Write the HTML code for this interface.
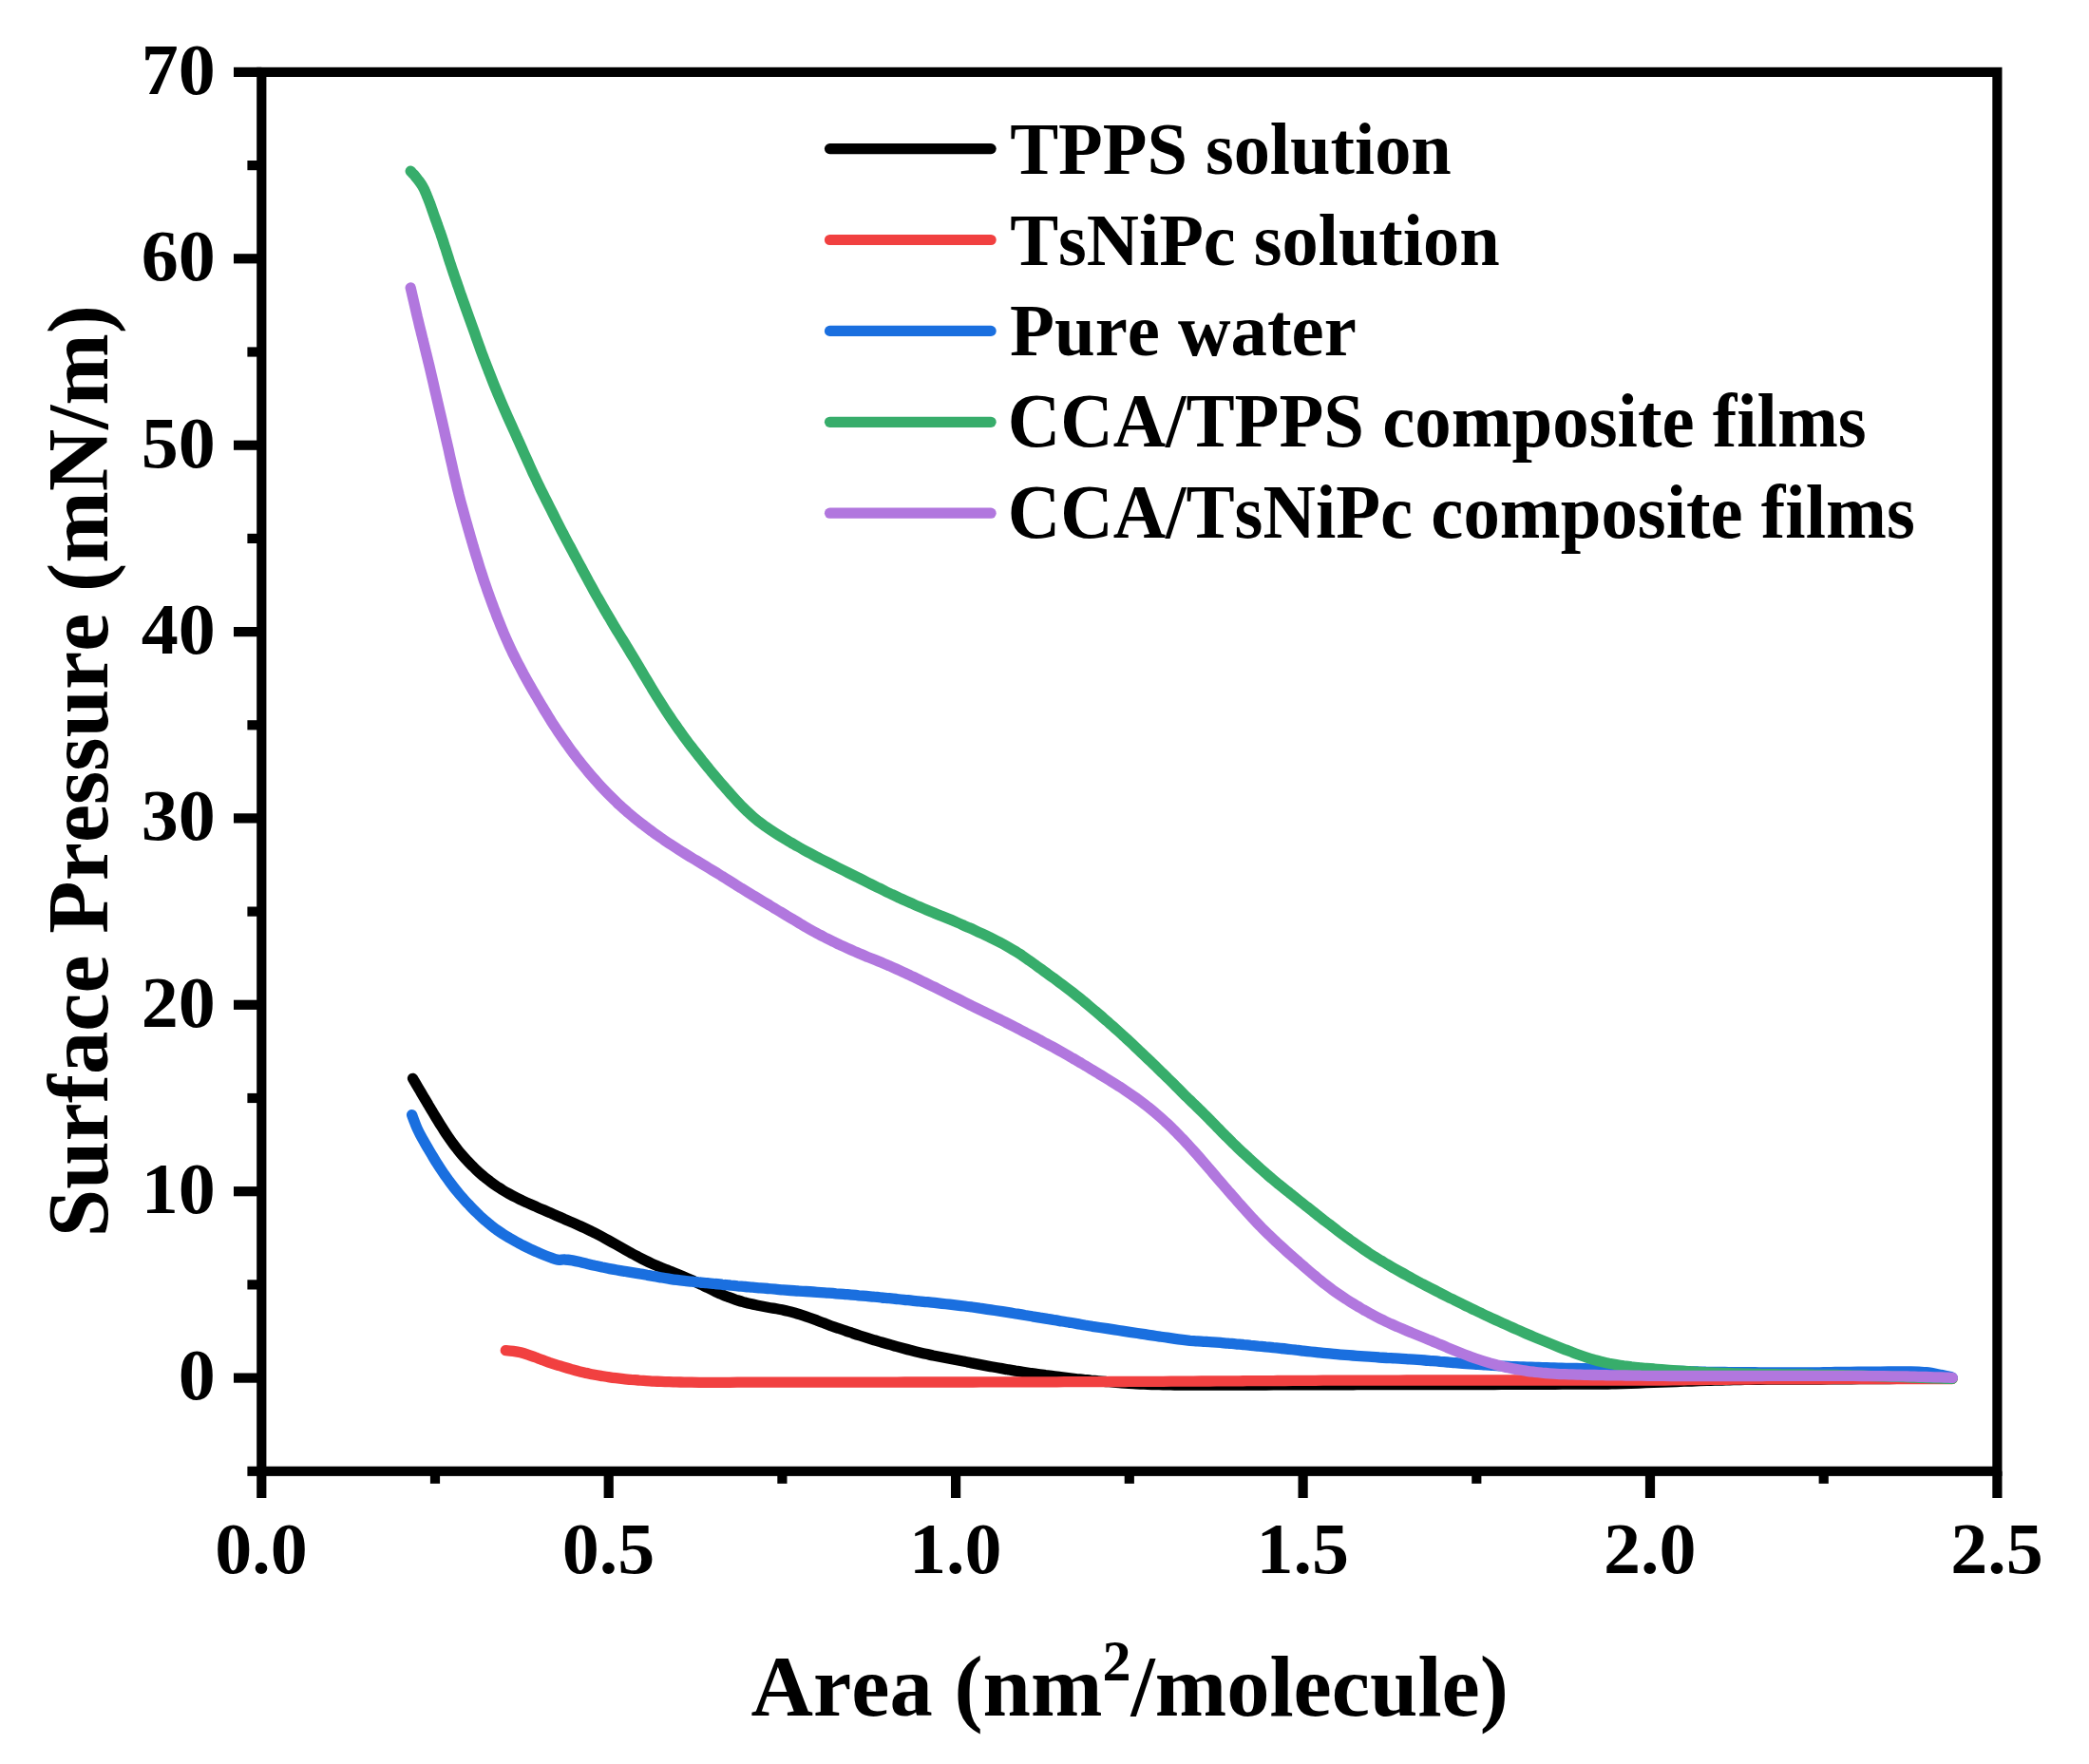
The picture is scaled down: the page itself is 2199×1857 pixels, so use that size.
<!DOCTYPE html>
<html lang="en"><head><meta charset="utf-8"><title>Surface Pressure vs Area isotherms</title>
<style>html,body{margin:0;padding:0;background:#fff}body{width:2199px;height:1857px;overflow:hidden}svg{display:block}text{font-family:"Liberation Serif","Times New Roman",serif;font-weight:bold;fill:#000;font-kerning:none}</style></head><body>
<svg width="2199" height="1857" viewBox="0 0 2199 1857">
<rect width="2199" height="1857" fill="#fff"/>
<g fill="none" stroke-width="11.3" stroke-linecap="round" stroke-linejoin="round">
<path stroke="#000000" d="M434.5 1135.3C435.2 1136.4 437.2 1139.9 438.6 1142.2C439.9 1144.5 441.3 1146.8 442.7 1149.1C444.0 1151.4 445.4 1153.7 446.7 1156.0C448.1 1158.3 449.5 1160.6 450.8 1162.9C452.2 1165.2 453.5 1167.5 454.9 1169.8C456.2 1172.1 457.6 1174.4 459.0 1176.6C460.4 1178.9 461.8 1181.2 463.2 1183.5C464.6 1185.7 466.0 1188.0 467.5 1190.2C468.9 1192.5 470.4 1194.7 471.9 1196.9C473.4 1199.1 474.9 1201.3 476.5 1203.4C478.1 1205.6 479.7 1207.7 481.4 1209.8C483.0 1211.9 484.7 1213.9 486.5 1216.0C488.2 1218.0 490.0 1220.0 491.8 1221.9C493.6 1223.9 495.5 1225.8 497.4 1227.7C499.3 1229.5 501.2 1231.4 503.1 1233.2C505.1 1235.0 507.1 1236.8 509.2 1238.5C511.2 1240.2 513.3 1241.8 515.5 1243.4C517.6 1245.0 519.7 1246.6 521.9 1248.1C524.1 1249.6 526.4 1251.0 528.6 1252.5C530.9 1253.9 533.2 1255.2 535.5 1256.5C537.8 1257.8 540.2 1259.1 542.6 1260.3C545.0 1261.5 547.4 1262.6 549.8 1263.8C552.2 1264.9 554.6 1266.0 557.1 1267.1C559.5 1268.2 561.9 1269.3 564.4 1270.3C566.8 1271.4 569.3 1272.5 571.7 1273.5C574.2 1274.6 576.6 1275.7 579.1 1276.7C581.5 1277.8 584.0 1278.9 586.4 1280.0C588.8 1281.0 591.3 1282.1 593.7 1283.2C596.2 1284.2 598.6 1285.3 601.1 1286.4C603.5 1287.4 606.0 1288.5 608.4 1289.6C610.8 1290.7 613.3 1291.8 615.7 1292.9C618.1 1294.0 620.5 1295.2 622.9 1296.4C625.3 1297.5 627.7 1298.8 630.1 1300.0C632.4 1301.2 634.8 1302.5 637.1 1303.8C639.4 1305.1 641.8 1306.4 644.1 1307.7C646.4 1309.0 648.8 1310.3 651.1 1311.6C653.4 1312.9 655.7 1314.2 658.1 1315.6C660.4 1316.9 662.7 1318.2 665.0 1319.5C667.4 1320.7 669.7 1322.0 672.1 1323.3C674.5 1324.5 676.8 1325.7 679.2 1326.9C681.6 1328.1 684.0 1329.2 686.5 1330.3C688.9 1331.4 691.4 1332.4 693.8 1333.4C696.3 1334.5 698.8 1335.5 701.2 1336.5C703.7 1337.5 706.2 1338.4 708.7 1339.4C711.2 1340.4 713.6 1341.4 716.1 1342.4C718.6 1343.4 721.0 1344.5 723.5 1345.6C725.9 1346.6 728.3 1347.8 730.8 1348.9C733.2 1350.0 735.6 1351.2 738.0 1352.3C740.4 1353.5 742.8 1354.6 745.2 1355.8C747.6 1357.0 750.0 1358.2 752.4 1359.3C754.8 1360.4 757.2 1361.6 759.7 1362.6C762.1 1363.7 764.6 1364.7 767.1 1365.6C769.6 1366.6 772.1 1367.5 774.6 1368.3C777.2 1369.1 779.7 1369.9 782.3 1370.6C784.9 1371.3 787.4 1372.0 790.0 1372.6C792.6 1373.2 795.3 1373.7 797.9 1374.2C800.5 1374.7 803.1 1375.2 805.7 1375.7C808.4 1376.2 811.0 1376.7 813.6 1377.1C816.2 1377.6 818.9 1378.0 821.5 1378.5C824.1 1379.1 826.7 1379.6 829.3 1380.2C831.9 1380.8 834.5 1381.5 837.1 1382.2C839.6 1382.9 842.2 1383.8 844.7 1384.6C847.2 1385.4 849.8 1386.3 852.3 1387.2C854.8 1388.1 857.3 1389.0 859.8 1389.9C862.3 1390.9 864.8 1391.9 867.3 1392.8C869.7 1393.8 872.2 1394.7 874.7 1395.7C877.2 1396.6 879.8 1397.5 882.3 1398.3C884.8 1399.2 887.3 1400.1 889.9 1400.9C892.4 1401.8 894.9 1402.6 897.5 1403.5C900.0 1404.3 902.5 1405.1 905.1 1406.0C907.6 1406.8 910.1 1407.6 912.7 1408.4C915.2 1409.2 917.8 1410.0 920.3 1410.8C922.9 1411.5 925.5 1412.3 928.0 1413.0C930.6 1413.8 933.2 1414.5 935.7 1415.2C938.3 1416.0 940.9 1416.7 943.4 1417.4C946.0 1418.1 948.6 1418.8 951.2 1419.5C953.7 1420.2 956.3 1420.9 958.9 1421.5C961.5 1422.2 964.1 1422.9 966.7 1423.5C969.3 1424.1 971.9 1424.7 974.5 1425.3C977.1 1425.9 979.7 1426.4 982.3 1427.0C984.9 1427.5 987.5 1428.0 990.2 1428.5C992.8 1429.0 995.4 1429.5 998.0 1430.0C1000.6 1430.5 1003.3 1431.0 1005.9 1431.5C1008.5 1432.0 1011.1 1432.5 1013.8 1433.0C1016.4 1433.5 1019.0 1434.0 1021.6 1434.6C1024.2 1435.1 1026.8 1435.6 1029.5 1436.1C1032.1 1436.6 1034.7 1437.1 1037.3 1437.6C1040.0 1438.1 1042.6 1438.6 1045.2 1439.0C1047.8 1439.5 1050.5 1440.0 1053.1 1440.4C1055.7 1440.9 1058.4 1441.3 1061.0 1441.8C1063.6 1442.2 1066.3 1442.6 1068.9 1443.1C1071.5 1443.5 1074.2 1443.9 1076.8 1444.3C1079.5 1444.7 1082.1 1445.1 1084.7 1445.5C1087.4 1445.9 1090.0 1446.3 1092.7 1446.6C1095.3 1447.0 1097.9 1447.3 1100.6 1447.7C1103.2 1448.0 1105.9 1448.4 1108.5 1448.7C1111.2 1449.0 1113.8 1449.4 1116.5 1449.7C1119.1 1450.0 1121.8 1450.3 1124.4 1450.6C1127.1 1450.9 1129.7 1451.2 1132.4 1451.5C1135.1 1451.8 1137.7 1452.0 1140.4 1452.3C1143.0 1452.6 1145.7 1452.8 1148.3 1453.1C1151.0 1453.3 1153.6 1453.6 1156.3 1453.8C1159.0 1454.1 1161.6 1454.3 1164.3 1454.5C1166.9 1454.8 1169.6 1455.0 1172.3 1455.2C1174.9 1455.4 1177.6 1455.7 1180.2 1455.8C1182.9 1456.0 1185.6 1456.2 1188.2 1456.4C1190.9 1456.5 1193.6 1456.6 1196.2 1456.8C1198.9 1456.9 1201.6 1457.1 1204.2 1457.2C1206.9 1457.3 1209.6 1457.4 1212.2 1457.5C1214.9 1457.6 1217.6 1457.6 1220.2 1457.7C1222.9 1457.8 1225.6 1457.8 1228.2 1457.9C1230.9 1457.9 1233.6 1458.0 1236.2 1458.0C1238.9 1458.0 1241.6 1458.1 1244.3 1458.1C1246.9 1458.1 1249.6 1458.1 1252.3 1458.1C1254.9 1458.1 1257.6 1458.1 1260.3 1458.1C1262.9 1458.1 1265.6 1458.1 1268.3 1458.1C1271.0 1458.1 1273.6 1458.1 1276.3 1458.1C1279.0 1458.1 1281.6 1458.1 1284.3 1458.1C1287.0 1458.1 1289.6 1458.1 1292.3 1458.1C1295.0 1458.1 1297.6 1458.1 1300.3 1458.0C1303.0 1458.0 1305.7 1458.0 1308.3 1458.0C1311.0 1458.0 1313.7 1458.0 1316.3 1458.0C1319.0 1458.0 1321.7 1458.0 1324.3 1458.0C1327.0 1458.0 1329.7 1458.0 1332.3 1458.0C1335.0 1458.0 1337.7 1458.0 1340.4 1457.9C1343.0 1457.9 1345.7 1457.9 1348.4 1457.9C1351.0 1457.9 1353.7 1457.9 1356.4 1457.9C1359.0 1457.9 1361.7 1457.9 1364.4 1457.9C1367.0 1457.9 1369.7 1457.9 1372.4 1457.9C1375.1 1457.9 1377.7 1457.9 1380.4 1457.8C1383.1 1457.8 1385.7 1457.8 1388.4 1457.8C1391.1 1457.8 1393.7 1457.8 1396.4 1457.8C1399.1 1457.8 1401.8 1457.8 1404.4 1457.8C1407.1 1457.8 1409.8 1457.8 1412.4 1457.8C1415.1 1457.8 1417.8 1457.8 1420.4 1457.8C1423.1 1457.8 1425.8 1457.7 1428.4 1457.7C1431.1 1457.7 1433.8 1457.7 1436.5 1457.7C1439.1 1457.7 1441.8 1457.7 1444.5 1457.7C1447.1 1457.7 1449.8 1457.7 1452.5 1457.7C1455.1 1457.7 1457.8 1457.7 1460.5 1457.7C1463.1 1457.7 1465.8 1457.7 1468.5 1457.7C1471.2 1457.7 1473.8 1457.7 1476.5 1457.6C1479.2 1457.6 1481.8 1457.6 1484.5 1457.6C1487.2 1457.6 1489.8 1457.6 1492.5 1457.6C1495.2 1457.6 1497.8 1457.6 1500.5 1457.6C1503.2 1457.6 1505.9 1457.6 1508.5 1457.6C1511.2 1457.6 1513.9 1457.6 1516.5 1457.6C1519.2 1457.6 1521.9 1457.6 1524.5 1457.6C1527.2 1457.5 1529.9 1457.5 1532.6 1457.5C1535.2 1457.5 1537.9 1457.5 1540.6 1457.5C1543.2 1457.5 1545.9 1457.5 1548.6 1457.5C1551.2 1457.5 1553.9 1457.5 1556.6 1457.5C1559.2 1457.5 1561.9 1457.5 1564.6 1457.5C1567.3 1457.5 1569.9 1457.5 1572.6 1457.5C1575.3 1457.4 1577.9 1457.4 1580.6 1457.4C1583.3 1457.4 1585.9 1457.4 1588.6 1457.4C1591.3 1457.4 1593.9 1457.4 1596.6 1457.4C1599.3 1457.4 1602.0 1457.4 1604.6 1457.4C1607.3 1457.4 1610.0 1457.4 1612.6 1457.3C1615.3 1457.3 1618.0 1457.3 1620.6 1457.3C1623.3 1457.3 1626.0 1457.3 1628.6 1457.3C1631.3 1457.3 1634.0 1457.3 1636.7 1457.3C1639.3 1457.2 1642.0 1457.2 1644.7 1457.2C1647.3 1457.2 1650.0 1457.2 1652.7 1457.2C1655.3 1457.2 1658.0 1457.2 1660.7 1457.2C1663.4 1457.1 1666.0 1457.1 1668.7 1457.1C1671.4 1457.1 1674.0 1457.1 1676.7 1457.1C1679.4 1457.1 1682.0 1457.1 1684.7 1457.1C1687.4 1457.0 1690.0 1457.0 1692.7 1457.0C1695.4 1457.0 1698.1 1456.9 1700.7 1456.9C1703.4 1456.8 1706.1 1456.7 1708.7 1456.6C1711.4 1456.5 1714.1 1456.4 1716.7 1456.3C1719.4 1456.2 1722.1 1456.1 1724.7 1456.0C1727.4 1455.9 1730.1 1455.8 1732.7 1455.7C1735.4 1455.6 1738.1 1455.5 1740.7 1455.4C1743.4 1455.3 1746.1 1455.2 1748.7 1455.1C1751.4 1455.0 1754.1 1454.9 1756.7 1454.8C1759.4 1454.7 1762.1 1454.6 1764.7 1454.5C1767.4 1454.4 1770.1 1454.3 1772.7 1454.2C1775.4 1454.1 1778.1 1454.0 1780.7 1454.0C1783.4 1453.9 1786.1 1453.8 1788.8 1453.7C1791.4 1453.6 1794.1 1453.5 1796.8 1453.4C1799.4 1453.3 1802.1 1453.3 1804.8 1453.2C1807.4 1453.1 1810.1 1453.1 1812.8 1453.0C1815.4 1452.9 1818.1 1452.9 1820.8 1452.8C1823.4 1452.7 1826.1 1452.7 1828.8 1452.6C1831.4 1452.6 1834.1 1452.5 1836.8 1452.4C1839.5 1452.4 1842.1 1452.3 1844.8 1452.3C1847.5 1452.3 1850.1 1452.3 1852.8 1452.3C1855.5 1452.2 1858.1 1452.2 1860.8 1452.2C1863.5 1452.2 1866.1 1452.2 1868.8 1452.2C1871.5 1452.2 1874.2 1452.2 1876.8 1452.1C1879.5 1452.1 1882.2 1452.1 1884.8 1452.1C1887.5 1452.1 1890.2 1452.1 1892.8 1452.1C1895.5 1452.1 1898.2 1452.0 1900.8 1452.0C1903.5 1452.0 1906.2 1452.0 1908.9 1452.0C1911.5 1452.0 1914.2 1452.0 1916.9 1452.0C1919.5 1451.9 1922.2 1451.9 1924.9 1451.9C1927.5 1451.9 1930.2 1451.9 1932.9 1451.9C1935.5 1451.9 1938.2 1451.9 1940.9 1451.8C1943.6 1451.8 1946.2 1451.8 1948.9 1451.8C1951.6 1451.8 1954.2 1451.8 1956.9 1451.7C1959.6 1451.7 1962.2 1451.7 1964.9 1451.7C1967.6 1451.7 1970.2 1451.6 1972.9 1451.6C1975.6 1451.6 1978.3 1451.6 1980.9 1451.6C1983.6 1451.5 1986.3 1451.5 1988.9 1451.5C1991.6 1451.5 1994.3 1451.5 1996.9 1451.4C1999.6 1451.4 2002.3 1451.4 2005.0 1451.4C2007.6 1451.4 2010.3 1451.3 2013.0 1451.3C2015.6 1451.3 2018.3 1451.3 2021.0 1451.3C2023.6 1451.2 2026.3 1451.2 2029.0 1451.2C2031.6 1451.2 2034.3 1451.2 2037.0 1451.1C2039.7 1451.1 2042.3 1451.1 2045.0 1451.1C2047.7 1451.1 2051.3 1451.0 2053.0 1451.0C2054.7 1451.0 2054.7 1451.0 2055.0 1451.0"/>
<path stroke="#F14040" d="M532.3 1421.6C533.6 1421.7 537.6 1422.0 540.2 1422.4C542.9 1422.8 545.5 1423.2 548.1 1423.8C550.6 1424.5 553.2 1425.3 555.7 1426.1C558.2 1426.9 560.7 1427.9 563.2 1428.8C565.7 1429.7 568.2 1430.7 570.7 1431.6C573.2 1432.6 575.7 1433.5 578.2 1434.4C580.8 1435.2 583.3 1436.0 585.9 1436.8C588.4 1437.6 591.0 1438.3 593.5 1439.1C596.1 1439.9 598.6 1440.6 601.2 1441.4C603.8 1442.1 606.3 1442.8 608.9 1443.5C611.5 1444.1 614.1 1444.8 616.7 1445.4C619.3 1445.9 621.9 1446.5 624.5 1447.0C627.1 1447.5 629.8 1448.0 632.4 1448.4C635.0 1448.8 637.7 1449.3 640.3 1449.6C642.9 1450.0 645.6 1450.4 648.2 1450.7C650.9 1451.0 653.5 1451.3 656.2 1451.6C658.8 1451.9 661.5 1452.1 664.2 1452.4C666.8 1452.6 669.5 1452.8 672.1 1453.0C674.8 1453.3 677.5 1453.4 680.1 1453.6C682.8 1453.8 685.4 1453.9 688.1 1454.1C690.8 1454.2 693.4 1454.3 696.1 1454.4C698.8 1454.5 701.4 1454.6 704.1 1454.7C706.8 1454.8 709.4 1454.9 712.1 1454.9C714.8 1455.0 717.4 1455.0 720.1 1455.1C722.8 1455.1 725.4 1455.2 728.1 1455.2C730.8 1455.3 733.5 1455.3 736.1 1455.3C738.8 1455.3 741.5 1455.3 744.1 1455.3C746.8 1455.3 749.5 1455.3 752.1 1455.3C754.8 1455.3 757.5 1455.3 760.1 1455.3C762.8 1455.3 765.5 1455.3 768.1 1455.3C770.8 1455.2 773.5 1455.2 776.1 1455.2C778.8 1455.2 781.5 1455.2 784.2 1455.2C786.8 1455.2 789.5 1455.2 792.2 1455.1C794.8 1455.1 797.5 1455.1 800.2 1455.1C802.8 1455.1 805.5 1455.1 808.2 1455.1C810.8 1455.1 813.5 1455.1 816.2 1455.1C818.8 1455.1 821.5 1455.1 824.2 1455.1C826.8 1455.1 829.5 1455.1 832.2 1455.1C834.9 1455.1 837.5 1455.1 840.2 1455.1C842.9 1455.1 845.5 1455.1 848.2 1455.1C850.9 1455.1 853.5 1455.1 856.2 1455.1C858.9 1455.1 861.5 1455.1 864.2 1455.1C866.9 1455.1 869.5 1455.1 872.2 1455.1C874.9 1455.1 877.5 1455.1 880.2 1455.1C882.9 1455.1 885.6 1455.1 888.2 1455.1C890.9 1455.1 893.6 1455.1 896.2 1455.1C898.9 1455.1 901.6 1455.1 904.2 1455.1C906.9 1455.1 909.6 1455.1 912.2 1455.1C914.9 1455.1 917.6 1455.1 920.2 1455.1C922.9 1455.1 925.6 1455.1 928.3 1455.1C930.9 1455.1 933.6 1455.1 936.3 1455.1C938.9 1455.1 941.6 1455.1 944.3 1455.1C946.9 1455.1 949.6 1455.1 952.3 1455.0C954.9 1455.0 957.6 1455.0 960.3 1455.0C962.9 1455.0 965.6 1455.0 968.3 1455.0C970.9 1455.0 973.6 1455.0 976.3 1455.0C979.0 1455.0 981.6 1455.0 984.3 1455.0C987.0 1455.0 989.6 1455.0 992.3 1455.0C995.0 1455.0 997.6 1455.0 1000.3 1455.0C1003.0 1455.0 1005.6 1455.0 1008.3 1455.0C1011.0 1455.0 1013.6 1455.0 1016.3 1455.0C1019.0 1455.0 1021.6 1455.0 1024.3 1455.0C1027.0 1454.9 1029.7 1454.9 1032.3 1454.9C1035.0 1454.9 1037.7 1454.9 1040.3 1454.9C1043.0 1454.9 1045.7 1454.9 1048.3 1454.9C1051.0 1454.9 1053.7 1454.9 1056.3 1454.9C1059.0 1454.9 1061.7 1454.9 1064.3 1454.9C1067.0 1454.9 1069.7 1454.9 1072.3 1454.9C1075.0 1454.8 1077.7 1454.8 1080.4 1454.8C1083.0 1454.8 1085.7 1454.8 1088.4 1454.8C1091.0 1454.8 1093.7 1454.8 1096.4 1454.8C1099.0 1454.8 1101.7 1454.8 1104.4 1454.8C1107.0 1454.8 1109.7 1454.8 1112.4 1454.8C1115.0 1454.7 1117.7 1454.7 1120.4 1454.7C1123.0 1454.7 1125.7 1454.7 1128.4 1454.7C1131.1 1454.7 1133.7 1454.7 1136.4 1454.7C1139.1 1454.6 1141.7 1454.6 1144.4 1454.6C1147.1 1454.6 1149.7 1454.6 1152.4 1454.6C1155.1 1454.6 1157.7 1454.6 1160.4 1454.6C1163.1 1454.5 1165.7 1454.5 1168.4 1454.5C1171.1 1454.5 1173.7 1454.5 1176.4 1454.5C1179.1 1454.5 1181.8 1454.5 1184.4 1454.5C1187.1 1454.5 1189.8 1454.4 1192.4 1454.4C1195.1 1454.4 1197.8 1454.4 1200.4 1454.4C1203.1 1454.4 1205.8 1454.4 1208.4 1454.3C1211.1 1454.3 1213.8 1454.3 1216.4 1454.3C1219.1 1454.3 1221.8 1454.3 1224.4 1454.3C1227.1 1454.2 1229.8 1454.2 1232.5 1454.2C1235.1 1454.2 1237.8 1454.2 1240.5 1454.2C1243.1 1454.1 1245.8 1454.1 1248.5 1454.1C1251.1 1454.1 1253.8 1454.1 1256.5 1454.1C1259.1 1454.0 1261.8 1454.0 1264.5 1454.0C1267.1 1454.0 1269.8 1454.0 1272.5 1454.0C1275.1 1453.9 1277.8 1453.9 1280.5 1453.9C1283.2 1453.9 1285.8 1453.9 1288.5 1453.9C1291.2 1453.9 1293.8 1453.8 1296.5 1453.8C1299.2 1453.8 1301.8 1453.8 1304.5 1453.8C1307.2 1453.8 1309.8 1453.7 1312.5 1453.7C1315.2 1453.7 1317.8 1453.7 1320.5 1453.7C1323.2 1453.7 1325.8 1453.6 1328.5 1453.6C1331.2 1453.6 1333.9 1453.6 1336.5 1453.6C1339.2 1453.6 1341.9 1453.5 1344.5 1453.5C1347.2 1453.5 1349.9 1453.5 1352.5 1453.5C1355.2 1453.5 1357.9 1453.5 1360.5 1453.4C1363.2 1453.4 1365.9 1453.4 1368.5 1453.4C1371.2 1453.4 1373.9 1453.4 1376.5 1453.3C1379.2 1453.3 1381.9 1453.3 1384.6 1453.3C1387.2 1453.3 1389.9 1453.3 1392.6 1453.2C1395.2 1453.2 1397.9 1453.2 1400.6 1453.2C1403.2 1453.2 1405.9 1453.2 1408.6 1453.2C1411.2 1453.2 1413.9 1453.2 1416.6 1453.2C1419.2 1453.2 1421.9 1453.2 1424.6 1453.2C1427.2 1453.1 1429.9 1453.1 1432.6 1453.1C1435.3 1453.1 1437.9 1453.1 1440.6 1453.1C1443.3 1453.1 1445.9 1453.1 1448.6 1453.1C1451.3 1453.1 1453.9 1453.1 1456.6 1453.1C1459.3 1453.1 1461.9 1453.1 1464.6 1453.1C1467.3 1453.1 1469.9 1453.1 1472.6 1453.1C1475.3 1453.0 1478.0 1453.0 1480.6 1453.0C1483.3 1453.0 1486.0 1453.0 1488.6 1453.0C1491.3 1453.0 1494.0 1453.0 1496.6 1453.0C1499.3 1453.0 1502.0 1453.0 1504.6 1453.0C1507.3 1453.0 1510.0 1453.0 1512.6 1453.0C1515.3 1453.0 1518.0 1453.0 1520.6 1453.0C1523.3 1453.0 1526.0 1453.0 1528.7 1453.0C1531.3 1453.0 1534.0 1453.0 1536.7 1453.0C1539.3 1453.0 1542.0 1453.0 1544.7 1453.0C1547.3 1453.0 1550.0 1453.0 1552.7 1453.0C1555.3 1453.0 1558.0 1453.0 1560.7 1453.0C1563.3 1453.0 1566.0 1453.0 1568.7 1453.0C1571.3 1453.0 1574.0 1453.0 1576.7 1453.0C1579.4 1453.0 1582.0 1453.0 1584.7 1453.0C1587.4 1453.0 1590.0 1453.0 1592.7 1453.0C1595.4 1453.0 1598.0 1453.0 1600.7 1453.0C1603.4 1453.0 1606.0 1453.0 1608.7 1453.0C1611.4 1453.0 1614.0 1453.0 1616.7 1453.0C1619.4 1453.0 1622.0 1453.0 1624.7 1453.0C1627.4 1453.0 1630.1 1453.0 1632.7 1453.0C1635.4 1453.0 1638.1 1453.0 1640.7 1453.0C1643.4 1453.0 1646.1 1453.0 1648.7 1453.0C1651.4 1453.0 1654.1 1453.0 1656.7 1453.0C1659.4 1453.0 1662.1 1453.0 1664.7 1453.0C1667.4 1453.0 1670.1 1453.0 1672.7 1453.0C1675.4 1453.0 1678.1 1453.0 1680.8 1453.0C1683.4 1453.0 1686.1 1453.0 1688.8 1453.0C1691.4 1453.0 1694.1 1453.0 1696.8 1453.0C1699.4 1453.0 1702.1 1453.0 1704.8 1453.0C1707.4 1453.0 1710.1 1453.0 1712.8 1453.0C1715.4 1453.0 1718.1 1453.0 1720.8 1453.0C1723.4 1453.0 1726.1 1453.0 1728.8 1453.0C1731.5 1453.0 1734.1 1453.0 1736.8 1453.0C1739.5 1453.0 1742.1 1453.0 1744.8 1453.0C1747.5 1453.0 1750.1 1453.0 1752.8 1453.0C1755.5 1452.9 1758.1 1452.9 1760.8 1452.9C1763.5 1452.9 1766.1 1452.8 1768.8 1452.8C1771.5 1452.8 1774.1 1452.7 1776.8 1452.7C1779.5 1452.7 1782.2 1452.6 1784.8 1452.6C1787.5 1452.6 1790.2 1452.6 1792.8 1452.5C1795.5 1452.5 1798.2 1452.5 1800.8 1452.4C1803.5 1452.4 1806.2 1452.4 1808.8 1452.4C1811.5 1452.3 1814.2 1452.3 1816.8 1452.3C1819.5 1452.2 1822.2 1452.2 1824.8 1452.2C1827.5 1452.1 1830.2 1452.1 1832.9 1452.1C1835.5 1452.1 1838.2 1452.0 1840.9 1452.0C1843.5 1452.0 1846.2 1452.0 1848.9 1451.9C1851.5 1451.9 1854.2 1451.9 1856.9 1451.9C1859.5 1451.9 1862.2 1451.9 1864.9 1451.9C1867.5 1451.9 1870.2 1451.9 1872.9 1451.9C1875.5 1451.8 1878.2 1451.8 1880.9 1451.8C1883.6 1451.8 1886.2 1451.8 1888.9 1451.8C1891.6 1451.8 1894.2 1451.8 1896.9 1451.8C1899.6 1451.8 1902.2 1451.8 1904.9 1451.8C1907.6 1451.8 1910.2 1451.8 1912.9 1451.8C1915.6 1451.8 1918.2 1451.8 1920.9 1451.8C1923.6 1451.8 1926.2 1451.7 1928.9 1451.7C1931.6 1451.7 1934.3 1451.7 1936.9 1451.7C1939.6 1451.7 1942.3 1451.7 1944.9 1451.7C1947.6 1451.7 1950.3 1451.7 1952.9 1451.7C1955.6 1451.7 1958.3 1451.7 1960.9 1451.7C1963.6 1451.7 1966.3 1451.7 1968.9 1451.7C1971.6 1451.7 1974.3 1451.7 1976.9 1451.6C1979.6 1451.6 1982.3 1451.6 1985.0 1451.6C1987.6 1451.6 1990.3 1451.6 1993.0 1451.6C1995.6 1451.6 1998.3 1451.6 2001.0 1451.6C2003.6 1451.6 2006.3 1451.6 2009.0 1451.6C2011.6 1451.6 2014.3 1451.6 2017.0 1451.6C2019.6 1451.6 2022.3 1451.6 2025.0 1451.6C2027.6 1451.6 2030.3 1451.5 2033.0 1451.5C2035.7 1451.5 2038.3 1451.5 2041.0 1451.5C2043.7 1451.5 2046.7 1451.5 2049.0 1451.5C2051.3 1451.5 2054.0 1451.5 2055.0 1451.5"/>
<path stroke="#1A6FDF" d="M433.6 1173.6C434.1 1174.9 435.4 1178.6 436.4 1181.1C437.3 1183.6 438.3 1186.1 439.4 1188.5C440.5 1190.9 441.8 1193.3 443.0 1195.6C444.2 1198.0 445.6 1200.3 446.9 1202.6C448.2 1204.9 449.5 1207.2 450.9 1209.5C452.2 1211.8 453.6 1214.1 455.0 1216.4C456.3 1218.7 457.7 1221.0 459.1 1223.3C460.6 1225.5 462.0 1227.8 463.5 1230.0C464.9 1232.2 466.4 1234.4 467.9 1236.6C469.5 1238.8 471.0 1241.0 472.6 1243.1C474.2 1245.3 475.8 1247.4 477.4 1249.5C479.0 1251.6 480.7 1253.7 482.4 1255.7C484.1 1257.8 485.9 1259.8 487.7 1261.8C489.4 1263.8 491.2 1265.8 493.1 1267.7C494.9 1269.6 496.7 1271.6 498.6 1273.5C500.5 1275.4 502.4 1277.2 504.3 1279.1C506.3 1280.9 508.2 1282.7 510.2 1284.5C512.2 1286.2 514.2 1288.0 516.3 1289.6C518.4 1291.3 520.5 1292.9 522.7 1294.5C524.9 1296.0 527.1 1297.5 529.3 1299.0C531.5 1300.4 533.8 1301.8 536.1 1303.2C538.4 1304.5 540.7 1305.8 543.1 1307.1C545.4 1308.4 547.8 1309.6 550.1 1310.9C552.5 1312.1 554.9 1313.3 557.3 1314.4C559.7 1315.5 562.1 1316.7 564.6 1317.7C567.0 1318.8 569.5 1319.9 571.9 1320.9C574.4 1321.9 576.9 1322.8 579.4 1323.7C581.9 1324.6 584.4 1325.8 587.0 1326.2C589.6 1326.6 592.2 1325.8 594.8 1326.0C597.5 1326.1 600.1 1326.5 602.7 1326.9C605.3 1327.4 607.9 1328.0 610.5 1328.6C613.1 1329.2 615.6 1329.9 618.2 1330.5C620.8 1331.1 623.4 1331.7 626.0 1332.3C628.6 1332.8 631.3 1333.4 633.9 1334.0C636.5 1334.5 639.1 1335.1 641.7 1335.6C644.3 1336.1 646.9 1336.6 649.6 1337.0C652.2 1337.5 654.8 1337.9 657.5 1338.3C660.1 1338.8 662.7 1339.2 665.4 1339.6C668.0 1340.0 670.6 1340.4 673.3 1340.9C675.9 1341.3 678.5 1341.8 681.1 1342.3C683.8 1342.7 686.4 1343.2 689.0 1343.7C691.6 1344.1 694.3 1344.6 696.9 1345.0C699.5 1345.5 702.2 1345.9 704.8 1346.3C707.4 1346.7 710.1 1347.1 712.7 1347.4C715.4 1347.8 718.0 1348.1 720.7 1348.4C723.3 1348.7 726.0 1348.9 728.6 1349.2C731.3 1349.5 733.9 1349.7 736.6 1350.0C739.2 1350.2 741.9 1350.5 744.5 1350.7C747.2 1351.0 749.9 1351.2 752.5 1351.5C755.2 1351.7 757.8 1352.0 760.5 1352.3C763.1 1352.5 765.8 1352.8 768.4 1353.0C771.1 1353.3 773.7 1353.5 776.4 1353.8C779.1 1354.0 781.7 1354.3 784.4 1354.5C787.0 1354.7 789.7 1355.0 792.3 1355.2C795.0 1355.4 797.7 1355.7 800.3 1355.9C803.0 1356.1 805.6 1356.3 808.3 1356.5C810.9 1356.8 813.6 1357.0 816.3 1357.2C818.9 1357.4 821.6 1357.7 824.2 1357.9C826.9 1358.1 829.6 1358.3 832.2 1358.5C834.9 1358.7 837.5 1358.8 840.2 1359.0C842.9 1359.2 845.5 1359.4 848.2 1359.5C850.8 1359.7 853.5 1359.9 856.2 1360.0C858.8 1360.2 861.5 1360.4 864.1 1360.6C866.8 1360.8 869.5 1360.9 872.1 1361.1C874.8 1361.3 877.4 1361.5 880.1 1361.8C882.8 1362.0 885.4 1362.2 888.1 1362.4C890.7 1362.6 893.4 1362.9 896.1 1363.1C898.7 1363.3 901.4 1363.5 904.0 1363.8C906.7 1364.0 909.3 1364.2 912.0 1364.4C914.7 1364.7 917.3 1364.9 920.0 1365.2C922.6 1365.4 925.3 1365.7 927.9 1366.0C930.6 1366.2 933.2 1366.5 935.9 1366.7C938.5 1367.0 941.2 1367.3 943.9 1367.5C946.5 1367.8 949.2 1368.1 951.8 1368.3C954.5 1368.6 957.1 1368.8 959.8 1369.1C962.4 1369.4 965.1 1369.6 967.7 1369.9C970.4 1370.1 973.1 1370.4 975.7 1370.6C978.4 1370.9 981.0 1371.2 983.7 1371.4C986.3 1371.7 989.0 1372.0 991.6 1372.3C994.3 1372.6 996.9 1372.9 999.6 1373.2C1002.2 1373.5 1004.9 1373.8 1007.5 1374.1C1010.2 1374.4 1012.8 1374.7 1015.5 1375.0C1018.1 1375.4 1020.8 1375.7 1023.4 1376.0C1026.1 1376.4 1028.7 1376.8 1031.3 1377.2C1034.0 1377.5 1036.6 1377.9 1039.2 1378.3C1041.9 1378.7 1044.5 1379.1 1047.2 1379.5C1049.8 1379.9 1052.4 1380.3 1055.1 1380.7C1057.7 1381.1 1060.3 1381.5 1063.0 1381.9C1065.6 1382.3 1068.2 1382.8 1070.9 1383.2C1073.5 1383.6 1076.1 1384.0 1078.8 1384.5C1081.4 1384.9 1084.0 1385.3 1086.7 1385.8C1089.3 1386.2 1091.9 1386.6 1094.6 1387.1C1097.2 1387.5 1099.8 1387.9 1102.5 1388.4C1105.1 1388.8 1107.7 1389.2 1110.4 1389.7C1113.0 1390.1 1115.6 1390.6 1118.2 1391.0C1120.9 1391.4 1123.5 1391.9 1126.1 1392.3C1128.8 1392.8 1131.4 1393.2 1134.0 1393.6C1136.7 1394.1 1139.3 1394.5 1141.9 1395.0C1144.6 1395.4 1147.2 1395.8 1149.8 1396.3C1152.5 1396.7 1155.1 1397.1 1157.7 1397.5C1160.4 1397.9 1163.0 1398.3 1165.6 1398.7C1168.3 1399.1 1170.9 1399.5 1173.5 1399.9C1176.2 1400.3 1178.8 1400.7 1181.5 1401.1C1184.1 1401.5 1186.7 1401.9 1189.4 1402.3C1192.0 1402.7 1194.6 1403.1 1197.3 1403.5C1199.9 1403.9 1202.6 1404.3 1205.2 1404.7C1207.8 1405.1 1210.5 1405.5 1213.1 1405.9C1215.7 1406.3 1218.4 1406.7 1221.0 1407.1C1223.7 1407.5 1226.3 1407.9 1228.9 1408.2C1231.6 1408.6 1234.2 1409.0 1236.8 1409.4C1239.5 1409.8 1242.1 1410.1 1244.8 1410.4C1247.4 1410.7 1250.1 1411.0 1252.7 1411.3C1255.4 1411.5 1258.0 1411.6 1260.7 1411.8C1263.4 1412.0 1266.0 1412.1 1268.7 1412.3C1271.4 1412.4 1274.0 1412.6 1276.7 1412.8C1279.3 1413.0 1282.0 1413.2 1284.7 1413.4C1287.3 1413.6 1290.0 1413.9 1292.6 1414.1C1295.3 1414.3 1297.9 1414.6 1300.6 1414.8C1303.3 1415.0 1305.9 1415.3 1308.6 1415.5C1311.2 1415.8 1313.9 1416.0 1316.5 1416.3C1319.2 1416.5 1321.8 1416.8 1324.5 1417.1C1327.1 1417.3 1329.8 1417.6 1332.5 1417.9C1335.1 1418.1 1337.8 1418.4 1340.4 1418.7C1343.1 1418.9 1345.7 1419.2 1348.4 1419.5C1351.0 1419.7 1353.7 1420.0 1356.3 1420.3C1359.0 1420.6 1361.6 1420.9 1364.3 1421.2C1366.9 1421.4 1369.6 1421.8 1372.2 1422.1C1374.9 1422.4 1377.5 1422.7 1380.2 1423.0C1382.8 1423.3 1385.5 1423.6 1388.1 1423.9C1390.8 1424.2 1393.4 1424.5 1396.1 1424.7C1398.7 1425.0 1401.4 1425.2 1404.1 1425.4C1406.7 1425.7 1409.4 1425.9 1412.0 1426.1C1414.7 1426.3 1417.4 1426.5 1420.0 1426.7C1422.7 1426.9 1425.3 1427.1 1428.0 1427.3C1430.7 1427.5 1433.3 1427.7 1436.0 1427.9C1438.6 1428.1 1441.3 1428.3 1444.0 1428.4C1446.6 1428.6 1449.3 1428.8 1451.9 1429.0C1454.6 1429.1 1457.3 1429.3 1459.9 1429.5C1462.6 1429.6 1465.2 1429.8 1467.9 1429.9C1470.6 1430.1 1473.2 1430.3 1475.9 1430.4C1478.6 1430.6 1481.2 1430.7 1483.9 1430.9C1486.5 1431.1 1489.2 1431.3 1491.9 1431.4C1494.5 1431.6 1497.2 1431.8 1499.8 1432.0C1502.5 1432.2 1505.2 1432.5 1507.8 1432.7C1510.5 1432.9 1513.1 1433.1 1515.8 1433.4C1518.5 1433.6 1521.1 1433.8 1523.8 1434.0C1526.4 1434.2 1529.1 1434.5 1531.7 1434.7C1534.4 1434.9 1537.1 1435.1 1539.7 1435.3C1542.4 1435.5 1545.0 1435.7 1547.7 1435.9C1550.4 1436.1 1553.0 1436.2 1555.7 1436.4C1558.3 1436.6 1561.0 1436.7 1563.7 1436.9C1566.3 1437.1 1569.0 1437.2 1571.7 1437.4C1574.3 1437.6 1577.0 1437.7 1579.6 1437.9C1582.3 1438.0 1585.0 1438.2 1587.6 1438.3C1590.3 1438.5 1593.0 1438.6 1595.6 1438.7C1598.3 1438.8 1601.0 1438.9 1603.6 1438.9C1606.3 1439.0 1608.9 1439.1 1611.6 1439.2C1614.3 1439.3 1616.9 1439.4 1619.6 1439.4C1622.3 1439.5 1624.9 1439.6 1627.6 1439.7C1630.3 1439.8 1632.9 1439.9 1635.6 1439.9C1638.3 1440.0 1640.9 1440.1 1643.6 1440.1C1646.3 1440.2 1648.9 1440.3 1651.6 1440.3C1654.3 1440.4 1656.9 1440.5 1659.6 1440.5C1662.3 1440.6 1664.9 1440.7 1667.6 1440.7C1670.3 1440.8 1672.9 1440.9 1675.6 1440.9C1678.3 1441.0 1680.9 1441.0 1683.6 1441.1C1686.3 1441.2 1688.9 1441.2 1691.6 1441.3C1694.3 1441.4 1696.9 1441.4 1699.6 1441.5C1702.3 1441.6 1704.9 1441.6 1707.6 1441.7C1710.3 1441.8 1712.9 1441.9 1715.6 1441.9C1718.3 1442.0 1720.9 1442.1 1723.6 1442.2C1726.3 1442.2 1728.9 1442.3 1731.6 1442.4C1734.3 1442.5 1736.9 1442.5 1739.6 1442.6C1742.3 1442.7 1744.9 1442.8 1747.6 1442.8C1750.3 1442.9 1752.9 1443.0 1755.6 1443.1C1758.3 1443.1 1760.9 1443.2 1763.6 1443.3C1766.3 1443.4 1768.9 1443.4 1771.6 1443.5C1774.3 1443.6 1776.9 1443.6 1779.6 1443.7C1782.2 1443.7 1784.9 1443.8 1787.6 1443.9C1790.2 1443.9 1792.9 1444.0 1795.6 1444.1C1798.2 1444.1 1800.9 1444.2 1803.6 1444.3C1806.2 1444.3 1808.9 1444.4 1811.6 1444.4C1814.2 1444.5 1816.9 1444.5 1819.6 1444.6C1822.2 1444.6 1824.9 1444.6 1827.6 1444.6C1830.2 1444.7 1832.9 1444.7 1835.6 1444.7C1838.2 1444.7 1840.9 1444.7 1843.6 1444.7C1846.2 1444.7 1848.9 1444.8 1851.6 1444.8C1854.3 1444.8 1856.9 1444.8 1859.6 1444.8C1862.3 1444.8 1864.9 1444.8 1867.6 1444.8C1870.3 1444.9 1872.9 1444.9 1875.6 1444.9C1878.3 1444.9 1880.9 1444.9 1883.6 1444.9C1886.3 1444.9 1888.9 1444.9 1891.6 1445.0C1894.3 1445.0 1896.9 1445.0 1899.6 1444.9C1902.3 1444.9 1904.9 1444.9 1907.6 1444.9C1910.3 1444.8 1912.9 1444.8 1915.6 1444.8C1918.3 1444.7 1920.9 1444.7 1923.6 1444.6C1926.3 1444.6 1928.9 1444.5 1931.6 1444.5C1934.3 1444.5 1936.9 1444.4 1939.6 1444.4C1942.3 1444.3 1944.9 1444.3 1947.6 1444.3C1950.3 1444.2 1952.9 1444.2 1955.6 1444.2C1958.3 1444.2 1960.9 1444.1 1963.6 1444.1C1966.3 1444.1 1968.9 1444.1 1971.6 1444.1C1974.3 1444.1 1976.9 1444.1 1979.6 1444.1C1982.3 1444.0 1984.9 1444.0 1987.6 1444.0C1990.3 1444.0 1992.9 1444.0 1995.6 1444.0C1998.3 1444.0 2000.9 1444.0 2003.6 1444.0C2006.3 1444.0 2008.9 1444.0 2011.6 1444.0C2014.3 1444.0 2016.9 1444.0 2019.6 1444.1C2022.2 1444.3 2024.9 1444.4 2027.5 1444.7C2030.2 1445.0 2032.8 1445.4 2035.4 1445.8C2038.1 1446.3 2040.7 1446.8 2043.3 1447.4C2045.9 1447.9 2049.2 1448.7 2051.1 1449.1C2053.1 1449.5 2054.4 1449.8 2055.0 1450.0"/>
<path stroke="#37AD6B" d="M432.2 180.1C432.6 180.6 434.0 182.1 434.9 183.1C435.8 184.0 436.7 185.0 437.5 186.1C438.4 187.1 439.2 188.1 440.0 189.2C440.9 190.2 441.7 191.3 442.4 192.4C443.2 193.5 443.9 194.6 444.6 195.7C445.3 196.8 445.9 198.0 446.5 199.2C447.1 200.4 447.6 201.6 448.1 202.9C448.6 204.1 449.1 205.3 449.6 206.6C450.1 207.8 450.6 209.0 451.1 210.3C451.6 211.5 452.1 212.8 452.5 214.0C453.0 215.3 453.4 216.5 453.9 217.8C454.3 219.0 454.7 220.3 455.2 221.6C455.6 222.8 456.0 224.1 456.5 225.3C456.9 226.6 457.4 227.9 457.8 229.1C458.3 230.4 458.7 231.6 459.2 232.9C459.6 234.1 460.1 235.4 460.5 236.6C461.0 237.9 461.4 239.2 461.9 240.4C462.3 241.7 462.8 242.9 463.2 244.2C463.7 245.4 464.1 246.7 464.5 248.0C465.0 249.2 465.4 250.5 465.8 251.8C466.2 253.0 466.6 254.3 467.0 255.6C467.4 256.8 467.8 258.1 468.2 259.4C468.7 260.6 469.1 261.9 469.5 263.2C469.9 264.5 470.3 265.7 470.7 267.0C471.1 268.3 471.5 269.5 471.9 270.8C472.3 272.1 472.7 273.3 473.1 274.6C473.5 275.9 473.9 277.2 474.4 278.4C474.8 279.7 475.2 281.0 475.6 282.2C476.0 283.5 476.4 284.8 476.9 286.0C477.3 287.3 477.7 288.5 478.2 289.8C478.6 291.1 479.0 292.3 479.5 293.6C479.9 294.8 480.3 296.1 480.8 297.4C481.2 298.6 481.6 299.9 482.1 301.1C482.5 302.4 483.0 303.7 483.4 304.9C483.8 306.2 484.3 307.4 484.7 308.7C485.2 310.0 485.4 310.6 486.0 312.5C486.7 314.4 487.8 317.5 488.7 320.0C489.6 322.5 490.5 325.0 491.4 327.6C492.3 330.1 493.2 332.6 494.1 335.1C495.0 337.6 495.9 340.1 496.8 342.6C497.7 345.1 498.6 347.7 499.5 350.2C500.4 352.7 501.2 355.2 502.1 357.7C503.0 360.2 503.9 362.7 504.8 365.2C505.7 367.8 506.7 370.3 507.6 372.8C508.5 375.3 509.5 377.8 510.4 380.2C511.4 382.7 512.3 385.2 513.3 387.7C514.2 390.2 515.2 392.7 516.2 395.2C517.2 397.7 518.1 400.1 519.1 402.6C520.1 405.1 521.1 407.6 522.1 410.0C523.1 412.5 524.1 415.0 525.2 417.4C526.2 419.9 527.2 422.3 528.3 424.8C529.3 427.2 530.4 429.7 531.5 432.1C532.6 434.6 533.6 437.0 534.7 439.4C535.8 441.9 536.9 444.3 538.0 446.7C539.1 449.2 540.2 451.6 541.3 454.0C542.4 456.4 543.6 458.9 544.6 461.3C545.7 463.7 546.8 466.2 547.9 468.6C549.0 471.0 550.1 473.5 551.1 475.9C552.2 478.4 553.3 480.8 554.4 483.2C555.5 485.7 556.6 488.1 557.7 490.5C558.8 493.0 559.9 495.4 561.0 497.8C562.1 500.2 563.3 502.6 564.4 505.0C565.6 507.5 566.7 509.9 567.9 512.3C569.0 514.7 570.2 517.1 571.4 519.4C572.6 521.8 573.8 524.2 575.0 526.6C576.2 529.0 577.4 531.4 578.6 533.8C579.8 536.1 581.0 538.5 582.2 540.9C583.4 543.3 584.5 545.7 585.8 548.1C587.0 550.4 588.2 552.8 589.4 555.2C590.6 557.6 591.8 559.9 593.1 562.3C594.3 564.7 595.5 567.0 596.8 569.4C598.0 571.7 599.3 574.1 600.6 576.4C601.8 578.8 603.1 581.1 604.3 583.5C605.6 585.8 606.9 588.2 608.1 590.5C609.4 592.9 610.7 595.2 611.9 597.6C613.2 599.9 614.4 602.3 615.7 604.6C617.0 607.0 618.2 609.3 619.5 611.7C620.8 614.0 622.1 616.3 623.4 618.7C624.6 621.0 625.9 623.4 627.2 625.7C628.5 628.0 629.9 630.3 631.2 632.6C632.5 635.0 633.8 637.3 635.2 639.6C636.5 641.9 637.9 644.2 639.2 646.5C640.6 648.8 641.9 651.1 643.3 653.4C644.6 655.7 646.0 658.0 647.3 660.3C648.7 662.6 650.1 664.8 651.5 667.1C652.9 669.4 654.3 671.7 655.7 673.9C657.1 676.2 658.5 678.5 659.9 680.7C661.3 683.0 662.7 685.3 664.0 687.6C665.4 689.8 666.8 692.1 668.2 694.4C669.6 696.7 670.9 699.0 672.3 701.3C673.6 703.6 675.0 705.9 676.4 708.2C677.7 710.5 679.1 712.8 680.5 715.0C681.8 717.3 683.2 719.6 684.6 721.9C686.0 724.2 687.3 726.5 688.7 728.7C690.1 731.0 691.5 733.3 692.9 735.5C694.4 737.8 695.8 740.1 697.2 742.3C698.6 744.6 700.1 746.8 701.5 749.0C703.0 751.3 704.5 753.5 706.0 755.7C707.4 757.9 708.9 760.1 710.5 762.3C712.0 764.5 713.5 766.7 715.1 768.9C716.6 771.0 718.2 773.2 719.7 775.4C721.3 777.5 722.9 779.6 724.5 781.8C726.1 783.9 727.8 786.0 729.4 788.1C731.0 790.2 732.7 792.3 734.3 794.4C736.0 796.5 737.6 798.6 739.3 800.7C741.0 802.8 742.7 804.8 744.3 806.9C746.0 809.0 747.7 811.0 749.4 813.1C751.1 815.1 752.8 817.2 754.5 819.2C756.3 821.3 758.0 823.3 759.7 825.3C761.5 827.3 763.3 829.3 765.0 831.3C766.8 833.3 768.6 835.3 770.3 837.3C772.1 839.3 773.9 841.2 775.7 843.2C777.5 845.2 779.4 847.1 781.2 849.0C783.1 850.9 785.0 852.8 786.9 854.6C788.8 856.5 790.8 858.3 792.8 860.0C794.8 861.7 796.9 863.4 799.0 865.1C801.1 866.7 803.2 868.3 805.4 869.8C807.5 871.4 809.7 872.8 812.0 874.3C814.2 875.8 816.4 877.2 818.7 878.6C821.0 880.0 823.3 881.4 825.5 882.8C827.8 884.1 830.1 885.5 832.4 886.8C834.7 888.2 837.0 889.5 839.3 890.9C841.7 892.2 844.0 893.5 846.3 894.8C848.6 896.1 851.0 897.4 853.3 898.6C855.7 899.9 858.0 901.1 860.4 902.4C862.8 903.6 865.1 904.8 867.5 906.0C869.9 907.2 872.3 908.4 874.7 909.6C877.0 910.8 879.4 912.0 881.8 913.2C884.2 914.4 886.6 915.6 889.0 916.8C891.4 918.0 893.7 919.2 896.1 920.4C898.5 921.6 900.9 922.8 903.3 923.9C905.7 925.1 908.1 926.3 910.4 927.5C912.8 928.7 915.2 929.9 917.6 931.1C920.0 932.3 922.4 933.5 924.8 934.7C927.2 935.8 929.5 937.0 931.9 938.2C934.3 939.4 936.7 940.5 939.2 941.7C941.6 942.8 944.0 943.9 946.4 945.1C948.8 946.2 951.3 947.3 953.7 948.4C956.1 949.5 958.5 950.6 961.0 951.6C963.4 952.7 965.9 953.8 968.3 954.8C970.8 955.9 973.2 956.9 975.7 958.0C978.1 959.0 980.6 960.0 983.1 961.0C985.5 962.1 988.0 963.0 990.5 964.1C993.0 965.1 995.4 966.1 997.9 967.1C1000.4 968.1 1002.8 969.1 1005.3 970.2C1007.7 971.2 1010.2 972.2 1012.6 973.3C1015.1 974.4 1017.5 975.5 1019.9 976.6C1022.4 977.6 1024.8 978.7 1027.2 979.8C1029.7 981.0 1032.1 982.1 1034.5 983.2C1036.9 984.3 1039.3 985.5 1041.7 986.6C1044.1 987.8 1046.5 989.0 1048.9 990.2C1051.3 991.4 1053.6 992.6 1056.0 993.9C1058.3 995.2 1060.6 996.5 1062.9 997.8C1065.2 999.1 1067.5 1000.5 1069.8 1001.9C1072.0 1003.4 1074.3 1004.8 1076.5 1006.3C1078.7 1007.8 1080.9 1009.3 1083.0 1010.9C1085.2 1012.4 1087.4 1014.0 1089.5 1015.5C1091.7 1017.1 1093.8 1018.7 1096.0 1020.2C1098.2 1021.8 1100.3 1023.3 1102.5 1024.9C1104.6 1026.5 1106.8 1028.1 1109.0 1029.6C1111.1 1031.2 1113.3 1032.8 1115.4 1034.4C1117.5 1036.0 1119.7 1037.6 1121.8 1039.2C1123.9 1040.8 1126.0 1042.4 1128.1 1044.0C1130.2 1045.7 1132.3 1047.3 1134.4 1049.0C1136.5 1050.7 1138.6 1052.3 1140.6 1054.0C1142.7 1055.7 1144.7 1057.4 1146.8 1059.2C1148.8 1060.9 1150.8 1062.6 1152.9 1064.3C1154.9 1066.1 1156.9 1067.8 1159.0 1069.5C1161.0 1071.3 1163.0 1073.0 1165.0 1074.8C1167.0 1076.5 1169.0 1078.3 1171.0 1080.0C1173.0 1081.8 1175.0 1083.6 1177.0 1085.4C1179.0 1087.2 1181.0 1089.0 1182.9 1090.8C1184.9 1092.6 1186.8 1094.4 1188.8 1096.2C1190.7 1098.0 1192.7 1099.8 1194.6 1101.7C1196.6 1103.5 1198.5 1105.3 1200.4 1107.2C1202.4 1109.0 1204.3 1110.8 1206.2 1112.7C1208.2 1114.5 1210.1 1116.4 1212.0 1118.2C1214.0 1120.0 1215.9 1121.9 1217.8 1123.8C1219.7 1125.6 1221.6 1127.5 1223.5 1129.4C1225.4 1131.2 1227.3 1133.1 1229.2 1135.0C1231.1 1136.8 1233.0 1138.7 1234.9 1140.6C1236.8 1142.5 1238.7 1144.4 1240.6 1146.3C1242.4 1148.1 1244.3 1150.0 1246.2 1151.9C1248.1 1153.8 1250.0 1155.6 1251.9 1157.5C1253.8 1159.4 1255.8 1161.2 1257.7 1163.1C1259.6 1165.0 1261.5 1166.8 1263.4 1168.7C1265.3 1170.5 1267.2 1172.4 1269.1 1174.3C1271.0 1176.2 1272.9 1178.1 1274.7 1180.0C1276.6 1181.9 1278.5 1183.8 1280.3 1185.7C1282.2 1187.6 1284.0 1189.5 1285.9 1191.4C1287.8 1193.3 1289.6 1195.2 1291.5 1197.1C1293.4 1199.0 1295.3 1200.9 1297.2 1202.8C1299.1 1204.6 1301.0 1206.5 1302.9 1208.3C1304.9 1210.2 1306.8 1212.0 1308.7 1213.8C1310.7 1215.6 1312.7 1217.4 1314.6 1219.2C1316.6 1221.0 1318.6 1222.8 1320.6 1224.6C1322.5 1226.4 1324.5 1228.2 1326.5 1230.0C1328.5 1231.7 1330.5 1233.5 1332.5 1235.3C1334.5 1237.0 1336.5 1238.8 1338.6 1240.5C1340.6 1242.2 1342.6 1243.9 1344.7 1245.6C1346.8 1247.3 1348.8 1249.0 1350.9 1250.6C1353.0 1252.3 1355.1 1254.0 1357.2 1255.6C1359.3 1257.3 1361.3 1259.0 1363.4 1260.6C1365.5 1262.3 1367.6 1263.9 1369.7 1265.6C1371.8 1267.3 1373.9 1268.9 1376.0 1270.6C1378.1 1272.2 1380.2 1273.9 1382.2 1275.5C1384.3 1277.2 1386.4 1278.8 1388.5 1280.5C1390.6 1282.1 1392.7 1283.8 1394.8 1285.4C1396.9 1287.1 1399.1 1288.7 1401.2 1290.3C1403.3 1291.9 1405.4 1293.5 1407.5 1295.2C1409.7 1296.8 1411.8 1298.4 1413.9 1300.0C1416.1 1301.6 1418.2 1303.1 1420.4 1304.7C1422.5 1306.3 1424.7 1307.8 1426.9 1309.4C1429.1 1310.9 1431.2 1312.4 1433.4 1313.9C1435.6 1315.5 1437.8 1316.9 1440.1 1318.4C1442.3 1319.9 1444.5 1321.3 1446.8 1322.8C1449.0 1324.2 1451.3 1325.6 1453.6 1327.0C1455.9 1328.3 1458.2 1329.7 1460.5 1331.0C1462.8 1332.4 1465.1 1333.7 1467.4 1335.1C1469.7 1336.4 1472.0 1337.7 1474.3 1339.0C1476.7 1340.3 1479.0 1341.6 1481.3 1342.9C1483.7 1344.2 1486.0 1345.5 1488.3 1346.8C1490.7 1348.0 1493.0 1349.3 1495.4 1350.6C1497.7 1351.8 1500.1 1353.0 1502.5 1354.3C1504.8 1355.5 1507.2 1356.7 1509.6 1357.9C1512.0 1359.1 1514.3 1360.4 1516.7 1361.6C1519.1 1362.8 1521.5 1364.0 1523.9 1365.2C1526.2 1366.4 1528.6 1367.5 1531.0 1368.7C1533.4 1369.9 1535.8 1371.1 1538.2 1372.3C1540.6 1373.5 1543.0 1374.6 1545.4 1375.8C1547.8 1377.0 1550.2 1378.1 1552.6 1379.3C1555.0 1380.5 1557.4 1381.6 1559.8 1382.7C1562.2 1383.9 1564.6 1385.0 1567.0 1386.1C1569.5 1387.3 1571.9 1388.4 1574.3 1389.5C1576.7 1390.6 1579.2 1391.7 1581.6 1392.8C1584.0 1393.9 1586.5 1395.0 1588.9 1396.1C1591.3 1397.2 1593.8 1398.3 1596.2 1399.4C1598.6 1400.4 1601.1 1401.5 1603.5 1402.6C1606.0 1403.7 1608.4 1404.7 1610.9 1405.8C1613.3 1406.8 1615.8 1407.9 1618.2 1408.9C1620.7 1409.9 1623.2 1410.9 1625.6 1411.9C1628.1 1412.9 1630.6 1413.9 1633.0 1414.9C1635.5 1415.9 1638.0 1416.9 1640.5 1417.9C1643.0 1418.9 1645.4 1419.9 1647.9 1420.9C1650.4 1421.8 1652.9 1422.8 1655.4 1423.7C1657.9 1424.7 1660.4 1425.6 1662.9 1426.5C1665.4 1427.4 1667.9 1428.3 1670.4 1429.1C1673.0 1429.9 1675.5 1430.7 1678.1 1431.5C1680.6 1432.2 1683.2 1432.9 1685.8 1433.5C1688.4 1434.2 1691.0 1434.7 1693.6 1435.3C1696.2 1435.8 1698.8 1436.3 1701.4 1436.7C1704.0 1437.1 1706.7 1437.5 1709.3 1437.9C1712.0 1438.2 1714.6 1438.5 1717.3 1438.9C1719.9 1439.2 1722.6 1439.4 1725.2 1439.7C1727.9 1439.9 1730.5 1440.2 1733.2 1440.4C1735.8 1440.6 1738.5 1440.8 1741.2 1441.0C1743.8 1441.3 1746.5 1441.5 1749.1 1441.7C1751.8 1441.9 1754.5 1442.1 1757.1 1442.3C1759.8 1442.5 1762.4 1442.7 1765.1 1442.9C1767.7 1443.1 1770.4 1443.3 1773.1 1443.5C1775.7 1443.7 1778.4 1443.8 1781.1 1444.0C1783.7 1444.2 1786.4 1444.3 1789.0 1444.4C1791.7 1444.6 1794.4 1444.7 1797.0 1444.8C1799.7 1444.9 1802.4 1445.0 1805.0 1445.1C1807.7 1445.2 1810.4 1445.3 1813.0 1445.4C1815.7 1445.5 1818.4 1445.6 1821.0 1445.7C1823.7 1445.8 1826.4 1445.9 1829.0 1445.9C1831.7 1446.0 1834.4 1446.1 1837.0 1446.2C1839.7 1446.2 1842.4 1446.3 1845.0 1446.3C1847.7 1446.4 1850.4 1446.4 1853.0 1446.5C1855.7 1446.5 1858.4 1446.6 1861.0 1446.6C1863.7 1446.6 1866.4 1446.7 1869.0 1446.7C1871.7 1446.7 1874.4 1446.7 1877.0 1446.8C1879.7 1446.8 1882.4 1446.8 1885.0 1446.9C1887.7 1446.9 1890.4 1446.9 1893.0 1446.9C1895.7 1447.0 1898.4 1447.0 1901.0 1447.0C1903.7 1447.1 1906.4 1447.1 1909.0 1447.2C1911.7 1447.2 1914.4 1447.2 1917.0 1447.3C1919.7 1447.3 1922.4 1447.4 1925.0 1447.4C1927.7 1447.4 1930.4 1447.5 1933.0 1447.5C1935.7 1447.6 1938.4 1447.6 1941.0 1447.7C1943.7 1447.7 1946.4 1447.8 1949.0 1447.9C1951.7 1447.9 1954.4 1448.0 1957.0 1448.1C1959.7 1448.2 1962.4 1448.2 1965.0 1448.3C1967.7 1448.4 1970.4 1448.5 1973.0 1448.6C1975.7 1448.7 1978.4 1448.8 1981.0 1448.9C1983.7 1448.9 1986.4 1449.0 1989.0 1449.1C1991.7 1449.2 1994.4 1449.3 1997.0 1449.4C1999.7 1449.5 2002.4 1449.6 2005.0 1449.7C2007.7 1449.8 2010.3 1449.9 2013.0 1450.0C2015.7 1450.1 2018.3 1450.2 2021.0 1450.3C2023.7 1450.4 2026.3 1450.5 2029.0 1450.6C2031.7 1450.7 2034.3 1450.8 2037.0 1450.9C2039.7 1450.9 2042.3 1451.0 2045.0 1451.1C2047.7 1451.2 2051.3 1451.3 2053.0 1451.3C2054.7 1451.4 2054.7 1451.4 2055.0 1451.4"/>
<path stroke="#B177DE" d="M432.2 302.9C432.5 304.2 433.4 308.1 434.0 310.7C434.6 313.3 435.2 315.9 435.8 318.5C436.4 321.1 437.0 323.7 437.6 326.3C438.2 328.9 438.8 331.5 439.4 334.1C440.1 336.7 440.7 339.3 441.3 341.9C441.9 344.5 442.6 347.1 443.2 349.6C443.8 352.2 444.5 354.8 445.1 357.4C445.8 360.0 446.4 362.6 447.0 365.2C447.7 367.8 448.3 370.4 448.9 373.0C449.6 375.6 450.2 378.1 450.8 380.7C451.5 383.3 452.1 385.9 452.7 388.5C453.3 391.1 453.9 393.7 454.5 396.3C455.1 398.9 455.7 401.5 456.3 404.1C456.9 406.7 457.5 409.3 458.1 411.9C458.7 414.5 459.3 417.1 459.9 419.7C460.5 422.3 461.1 424.9 461.7 427.5C462.3 430.1 462.9 432.7 463.5 435.3C464.1 437.9 464.7 440.5 465.3 443.1C465.9 445.7 466.5 448.3 467.1 450.9C467.7 453.5 468.3 456.1 468.8 458.7C469.4 461.3 470.0 463.9 470.6 466.5C471.2 469.1 471.8 471.7 472.4 474.3C472.9 477.0 473.5 479.6 474.1 482.2C474.7 484.8 475.3 487.4 475.9 490.0C476.5 492.6 477.0 495.2 477.6 497.8C478.2 500.4 478.8 503.0 479.5 505.6C480.1 508.2 480.7 510.8 481.3 513.4C481.9 515.9 482.6 518.5 483.2 521.1C483.9 523.7 484.5 526.3 485.2 528.9C485.9 531.5 486.6 534.0 487.3 536.6C488.0 539.2 488.7 541.8 489.4 544.3C490.1 546.9 490.8 549.5 491.6 552.0C492.3 554.6 493.0 557.2 493.8 559.7C494.5 562.3 495.2 564.9 496.0 567.4C496.7 570.0 497.5 572.5 498.2 575.1C499.0 577.7 499.8 580.2 500.5 582.8C501.3 585.3 502.1 587.9 502.9 590.4C503.7 593.0 504.4 595.5 505.2 598.1C506.0 600.6 506.9 603.1 507.7 605.7C508.5 608.2 509.3 610.8 510.2 613.3C511.1 615.8 511.9 618.3 512.8 620.8C513.7 623.4 514.6 625.9 515.5 628.4C516.4 630.9 517.3 633.4 518.2 635.9C519.2 638.4 520.1 640.9 521.1 643.4C522.0 645.9 523.0 648.4 523.9 650.9C524.9 653.3 525.9 655.8 526.9 658.3C527.9 660.8 528.9 663.2 529.9 665.7C531.0 668.2 532.0 670.6 533.1 673.0C534.2 675.5 535.3 677.9 536.4 680.3C537.5 682.8 538.7 685.2 539.8 687.6C541.0 690.0 542.2 692.3 543.4 694.7C544.6 697.1 545.8 699.5 547.1 701.8C548.3 704.2 549.6 706.6 550.8 708.9C552.1 711.2 553.4 713.6 554.7 715.9C556.0 718.3 557.3 720.6 558.6 722.9C559.9 725.2 561.3 727.5 562.6 729.8C564.0 732.1 565.3 734.4 566.7 736.7C568.0 739.0 569.4 741.3 570.8 743.6C572.1 745.9 573.5 748.2 574.9 750.4C576.3 752.7 577.7 755.0 579.1 757.3C580.5 759.5 581.9 761.8 583.4 764.0C584.8 766.2 586.3 768.5 587.8 770.7C589.3 772.9 590.8 775.1 592.3 777.3C593.8 779.5 595.4 781.7 596.9 783.8C598.5 786.0 600.0 788.2 601.6 790.3C603.2 792.4 604.8 794.6 606.4 796.7C608.1 798.8 609.7 800.9 611.3 803.0C613.0 805.1 614.7 807.2 616.4 809.2C618.1 811.3 619.8 813.3 621.5 815.4C623.2 817.4 625.0 819.4 626.8 821.4C628.5 823.4 630.3 825.4 632.1 827.3C634.0 829.3 635.8 831.2 637.6 833.1C639.5 835.1 641.4 837.0 643.2 838.8C645.1 840.7 647.0 842.6 649.0 844.4C650.9 846.3 652.9 848.1 654.8 849.9C656.8 851.7 658.8 853.4 660.8 855.2C662.8 856.9 664.9 858.6 666.9 860.3C669.0 862.0 671.1 863.7 673.2 865.4C675.2 867.0 677.4 868.6 679.5 870.2C681.6 871.9 683.7 873.5 685.9 875.0C688.1 876.6 690.2 878.2 692.4 879.7C694.6 881.2 696.8 882.8 699.0 884.3C701.2 885.8 703.4 887.3 705.6 888.7C707.8 890.2 710.1 891.7 712.3 893.1C714.6 894.5 716.8 896.0 719.1 897.4C721.3 898.8 723.6 900.2 725.9 901.6C728.2 903.0 730.4 904.4 732.7 905.7C735.0 907.1 737.3 908.5 739.6 909.9C741.9 911.3 744.1 912.6 746.4 914.0C748.7 915.4 751.0 916.8 753.3 918.2C755.5 919.6 757.8 920.9 760.1 922.4C762.4 923.8 764.6 925.2 766.9 926.6C769.1 928.0 771.4 929.4 773.7 930.8C775.9 932.3 778.2 933.7 780.4 935.1C782.7 936.5 785.0 937.9 787.3 939.3C789.5 940.7 791.8 942.0 794.1 943.4C796.4 944.8 798.7 946.2 801.0 947.6C803.2 948.9 805.5 950.3 807.8 951.7C810.1 953.1 812.4 954.4 814.7 955.8C817.0 957.2 819.2 958.6 821.5 959.9C823.8 961.3 826.1 962.7 828.4 964.1C830.7 965.4 833.0 966.8 835.3 968.2C837.6 969.5 839.8 970.9 842.1 972.3C844.4 973.6 846.7 975.0 849.0 976.3C851.4 977.7 853.7 979.0 856.0 980.3C858.3 981.6 860.7 982.8 863.0 984.1C865.4 985.3 867.8 986.6 870.1 987.8C872.5 989.0 874.9 990.2 877.3 991.3C879.7 992.5 882.1 993.6 884.5 994.8C886.9 995.9 889.4 997.0 891.8 998.1C894.2 999.2 896.7 1000.3 899.1 1001.4C901.5 1002.4 904.0 1003.5 906.5 1004.5C908.9 1005.6 911.4 1006.6 913.8 1007.6C916.3 1008.6 918.8 1009.6 921.3 1010.6C923.7 1011.6 926.2 1012.6 928.7 1013.6C931.1 1014.7 933.6 1015.7 936.0 1016.7C938.5 1017.8 940.9 1018.9 943.4 1020.0C945.8 1021.1 948.2 1022.2 950.6 1023.3C953.1 1024.4 955.5 1025.6 957.9 1026.7C960.3 1027.9 962.7 1029.0 965.1 1030.2C967.5 1031.3 969.9 1032.5 972.3 1033.7C974.7 1034.8 977.1 1036.0 979.5 1037.2C981.9 1038.4 984.3 1039.5 986.7 1040.7C989.1 1041.9 991.4 1043.1 993.8 1044.3C996.2 1045.5 998.6 1046.7 1001.0 1047.9C1003.4 1049.0 1005.8 1050.2 1008.2 1051.4C1010.5 1052.6 1012.9 1053.8 1015.3 1055.0C1017.7 1056.2 1020.1 1057.4 1022.5 1058.6C1024.9 1059.7 1027.3 1060.9 1029.7 1062.1C1032.1 1063.3 1034.5 1064.4 1036.9 1065.6C1039.3 1066.8 1041.7 1067.9 1044.1 1069.1C1046.5 1070.2 1048.9 1071.4 1051.3 1072.6C1053.7 1073.8 1056.1 1074.9 1058.4 1076.1C1060.8 1077.3 1063.2 1078.5 1065.6 1079.8C1067.9 1081.0 1070.3 1082.2 1072.7 1083.4C1075.0 1084.7 1077.4 1085.9 1079.8 1087.1C1082.2 1088.4 1084.5 1089.6 1086.9 1090.8C1089.3 1092.1 1091.6 1093.3 1094.0 1094.5C1096.3 1095.8 1098.7 1097.0 1101.0 1098.3C1103.4 1099.6 1105.7 1100.8 1108.1 1102.1C1110.4 1103.4 1112.8 1104.7 1115.1 1106.0C1117.4 1107.3 1119.7 1108.6 1122.0 1109.9C1124.4 1111.2 1126.7 1112.6 1129.0 1113.9C1131.3 1115.3 1133.6 1116.6 1135.9 1118.0C1138.2 1119.3 1140.5 1120.7 1142.8 1122.0C1145.1 1123.4 1147.4 1124.8 1149.6 1126.2C1151.9 1127.5 1154.2 1128.9 1156.5 1130.3C1158.8 1131.7 1161.0 1133.1 1163.3 1134.5C1165.6 1135.9 1167.9 1137.3 1170.1 1138.7C1172.4 1140.1 1174.7 1141.5 1176.9 1142.9C1179.2 1144.4 1181.4 1145.8 1183.6 1147.3C1185.8 1148.8 1188.0 1150.3 1190.2 1151.8C1192.4 1153.3 1194.6 1154.9 1196.7 1156.4C1198.9 1158.0 1201.0 1159.6 1203.2 1161.2C1205.3 1162.8 1207.4 1164.5 1209.5 1166.1C1211.6 1167.8 1213.6 1169.5 1215.7 1171.2C1217.7 1172.9 1219.7 1174.6 1221.7 1176.4C1223.7 1178.2 1225.7 1180.0 1227.6 1181.8C1229.6 1183.6 1231.5 1185.4 1233.4 1187.3C1235.3 1189.2 1237.2 1191.0 1239.1 1192.9C1241.0 1194.8 1242.8 1196.8 1244.7 1198.7C1246.5 1200.6 1248.3 1202.6 1250.1 1204.5C1251.9 1206.5 1253.7 1208.5 1255.5 1210.5C1257.3 1212.4 1259.1 1214.4 1260.8 1216.4C1262.6 1218.4 1264.3 1220.4 1266.1 1222.5C1267.8 1224.5 1269.6 1226.5 1271.3 1228.5C1273.1 1230.5 1274.8 1232.6 1276.5 1234.6C1278.3 1236.6 1280.0 1238.6 1281.7 1240.7C1283.5 1242.7 1285.2 1244.7 1287.0 1246.7C1288.7 1248.8 1290.4 1250.8 1292.2 1252.8C1293.9 1254.8 1295.7 1256.8 1297.4 1258.8C1299.2 1260.8 1301.0 1262.8 1302.7 1264.8C1304.5 1266.9 1306.3 1268.8 1308.0 1270.8C1309.8 1272.8 1311.6 1274.8 1313.4 1276.8C1315.2 1278.8 1317.0 1280.7 1318.8 1282.7C1320.6 1284.6 1322.5 1286.6 1324.3 1288.5C1326.2 1290.4 1328.0 1292.3 1329.9 1294.2C1331.8 1296.1 1333.7 1298.0 1335.6 1299.8C1337.5 1301.7 1339.4 1303.5 1341.4 1305.4C1343.3 1307.2 1345.3 1309.0 1347.2 1310.8C1349.2 1312.6 1351.2 1314.4 1353.1 1316.2C1355.1 1318.0 1357.1 1319.8 1359.1 1321.5C1361.1 1323.3 1363.1 1325.1 1365.1 1326.8C1367.1 1328.6 1369.2 1330.3 1371.2 1332.1C1373.2 1333.8 1375.2 1335.6 1377.2 1337.3C1379.3 1339.0 1381.3 1340.8 1383.3 1342.5C1385.4 1344.2 1387.4 1345.9 1389.5 1347.6C1391.5 1349.3 1393.6 1351.0 1395.7 1352.6C1397.8 1354.2 1399.9 1355.8 1402.1 1357.4C1404.2 1359.0 1406.4 1360.5 1408.6 1362.0C1410.8 1363.5 1413.0 1365.0 1415.3 1366.5C1417.5 1367.9 1419.7 1369.4 1422.0 1370.8C1424.3 1372.2 1426.5 1373.6 1428.8 1375.0C1431.1 1376.3 1433.4 1377.7 1435.7 1379.0C1438.0 1380.3 1440.4 1381.7 1442.7 1382.9C1445.0 1384.2 1447.4 1385.5 1449.8 1386.7C1452.1 1387.9 1454.5 1389.1 1456.9 1390.2C1459.3 1391.4 1461.7 1392.5 1464.2 1393.7C1466.6 1394.8 1469.0 1395.8 1471.5 1396.9C1473.9 1398.0 1476.4 1399.0 1478.8 1400.0C1481.3 1401.1 1483.8 1402.1 1486.2 1403.1C1488.7 1404.1 1491.2 1405.1 1493.6 1406.1C1496.1 1407.1 1498.6 1408.1 1501.0 1409.1C1503.5 1410.2 1506.0 1411.2 1508.4 1412.2C1510.9 1413.2 1513.4 1414.3 1515.8 1415.3C1518.3 1416.3 1520.7 1417.3 1523.2 1418.4C1525.7 1419.4 1528.1 1420.4 1530.6 1421.4C1533.1 1422.4 1535.6 1423.4 1538.0 1424.4C1540.5 1425.4 1543.0 1426.3 1545.5 1427.2C1548.0 1428.2 1550.5 1429.1 1553.0 1430.0C1555.5 1430.8 1558.1 1431.7 1560.6 1432.5C1563.1 1433.3 1565.7 1434.1 1568.3 1434.9C1570.8 1435.6 1573.4 1436.3 1576.0 1437.0C1578.5 1437.6 1581.1 1438.3 1583.7 1438.9C1586.3 1439.5 1588.9 1440.0 1591.5 1440.6C1594.2 1441.1 1596.8 1441.6 1599.4 1442.0C1602.0 1442.5 1604.7 1442.9 1607.3 1443.3C1609.9 1443.7 1612.6 1444.0 1615.2 1444.3C1617.9 1444.6 1620.5 1444.9 1623.2 1445.2C1625.8 1445.4 1628.5 1445.6 1631.1 1445.8C1633.8 1446.0 1636.5 1446.2 1639.1 1446.3C1641.8 1446.5 1644.5 1446.6 1647.1 1446.7C1649.8 1446.8 1652.5 1446.9 1655.1 1446.9C1657.8 1447.0 1660.5 1447.1 1663.1 1447.1C1665.8 1447.2 1668.5 1447.3 1671.1 1447.3C1673.8 1447.4 1676.5 1447.5 1679.1 1447.5C1681.8 1447.6 1684.5 1447.6 1687.1 1447.7C1689.8 1447.7 1692.5 1447.8 1695.1 1447.8C1697.8 1447.8 1700.5 1447.9 1703.1 1447.9C1705.8 1447.9 1708.5 1448.0 1711.1 1448.0C1713.8 1448.0 1716.5 1448.0 1719.1 1448.1C1721.8 1448.1 1724.5 1448.1 1727.2 1448.2C1729.8 1448.2 1732.5 1448.2 1735.2 1448.3C1737.8 1448.3 1740.5 1448.3 1743.2 1448.3C1745.8 1448.4 1748.5 1448.4 1751.2 1448.4C1753.8 1448.4 1756.5 1448.4 1759.2 1448.5C1761.8 1448.5 1764.5 1448.5 1767.2 1448.5C1769.8 1448.5 1772.5 1448.5 1775.2 1448.5C1777.8 1448.5 1780.5 1448.5 1783.2 1448.5C1785.8 1448.5 1788.5 1448.5 1791.2 1448.5C1793.9 1448.5 1796.5 1448.5 1799.2 1448.5C1801.9 1448.5 1804.5 1448.5 1807.2 1448.5C1809.9 1448.5 1812.5 1448.5 1815.2 1448.5C1817.9 1448.5 1820.5 1448.5 1823.2 1448.5C1825.9 1448.5 1828.5 1448.5 1831.2 1448.5C1833.9 1448.5 1836.5 1448.5 1839.2 1448.5C1841.9 1448.5 1844.5 1448.5 1847.2 1448.5C1849.9 1448.5 1852.6 1448.5 1855.2 1448.5C1857.9 1448.5 1860.6 1448.4 1863.2 1448.4C1865.9 1448.4 1868.6 1448.4 1871.2 1448.4C1873.9 1448.4 1876.6 1448.4 1879.2 1448.4C1881.9 1448.4 1884.6 1448.3 1887.2 1448.3C1889.9 1448.3 1892.6 1448.3 1895.2 1448.3C1897.9 1448.3 1900.6 1448.3 1903.2 1448.3C1905.9 1448.3 1908.6 1448.3 1911.2 1448.3C1913.9 1448.3 1916.6 1448.3 1919.3 1448.3C1921.9 1448.3 1924.6 1448.3 1927.3 1448.3C1929.9 1448.3 1932.6 1448.3 1935.3 1448.3C1937.9 1448.4 1940.6 1448.4 1943.3 1448.4C1945.9 1448.4 1948.6 1448.4 1951.3 1448.4C1953.9 1448.5 1956.6 1448.5 1959.3 1448.5C1961.9 1448.5 1964.6 1448.5 1967.3 1448.6C1969.9 1448.6 1972.6 1448.6 1975.3 1448.6C1977.9 1448.6 1980.6 1448.7 1983.3 1448.7C1986.0 1448.7 1988.6 1448.7 1991.3 1448.8C1994.0 1448.8 1996.6 1448.8 1999.3 1448.9C2002.0 1448.9 2004.6 1449.0 2007.3 1449.0C2010.0 1449.1 2012.6 1449.1 2015.3 1449.2C2018.0 1449.3 2020.6 1449.3 2023.3 1449.4C2026.0 1449.5 2028.6 1449.5 2031.3 1449.6C2034.0 1449.7 2036.6 1449.8 2039.3 1449.8C2042.0 1449.9 2044.6 1450.0 2047.3 1450.1C2050.0 1450.2 2054.0 1450.4 2055.3 1450.4"/>
</g>
<g stroke="#000" stroke-width="10.2" fill="none" stroke-linecap="butt">
<rect x="275.3" y="75.9" width="1827.1" height="1472.9"/>
<line x1="260.4" y1="1548.8" x2="275.3" y2="1548.8"/>
<line x1="246.0" y1="1450.6" x2="275.3" y2="1450.6"/>
<line x1="260.4" y1="1352.4" x2="275.3" y2="1352.4"/>
<line x1="246.0" y1="1254.2" x2="275.3" y2="1254.2"/>
<line x1="260.4" y1="1156.0" x2="275.3" y2="1156.0"/>
<line x1="246.0" y1="1057.8" x2="275.3" y2="1057.8"/>
<line x1="260.4" y1="959.6" x2="275.3" y2="959.6"/>
<line x1="246.0" y1="861.4" x2="275.3" y2="861.4"/>
<line x1="260.4" y1="763.3" x2="275.3" y2="763.3"/>
<line x1="246.0" y1="665.1" x2="275.3" y2="665.1"/>
<line x1="260.4" y1="566.9" x2="275.3" y2="566.9"/>
<line x1="246.0" y1="468.7" x2="275.3" y2="468.7"/>
<line x1="260.4" y1="370.5" x2="275.3" y2="370.5"/>
<line x1="246.0" y1="272.3" x2="275.3" y2="272.3"/>
<line x1="260.4" y1="174.1" x2="275.3" y2="174.1"/>
<line x1="246.0" y1="75.9" x2="275.3" y2="75.9"/>
<line x1="275.3" y1="1548.8" x2="275.3" y2="1577.0"/>
<line x1="458.0" y1="1548.8" x2="458.0" y2="1561.8"/>
<line x1="640.7" y1="1548.8" x2="640.7" y2="1577.0"/>
<line x1="823.4" y1="1548.8" x2="823.4" y2="1561.8"/>
<line x1="1006.1" y1="1548.8" x2="1006.1" y2="1577.0"/>
<line x1="1188.8" y1="1548.8" x2="1188.8" y2="1561.8"/>
<line x1="1371.6" y1="1548.8" x2="1371.6" y2="1577.0"/>
<line x1="1554.3" y1="1548.8" x2="1554.3" y2="1561.8"/>
<line x1="1737.0" y1="1548.8" x2="1737.0" y2="1577.0"/>
<line x1="1919.7" y1="1548.8" x2="1919.7" y2="1561.8"/>
<line x1="2102.4" y1="1548.8" x2="2102.4" y2="1577.0"/>
</g>
<text transform="translate(226.8 1473.4) scale(1.0200 1)" font-size="76.5" text-anchor="end">0</text>
<text transform="translate(226.8 1277.0) scale(1.0200 1)" font-size="76.5" text-anchor="end">10</text>
<text transform="translate(226.8 1080.6) scale(1.0200 1)" font-size="76.5" text-anchor="end">20</text>
<text transform="translate(226.8 884.2) scale(1.0200 1)" font-size="76.5" text-anchor="end">30</text>
<text transform="translate(226.8 687.9) scale(1.0200 1)" font-size="76.5" text-anchor="end">40</text>
<text transform="translate(226.8 491.5) scale(1.0200 1)" font-size="76.5" text-anchor="end">50</text>
<text transform="translate(226.8 295.1) scale(1.0200 1)" font-size="76.5" text-anchor="end">60</text>
<text transform="translate(226.8 98.7) scale(1.0200 1)" font-size="76.5" text-anchor="end">70</text>
<text transform="translate(275.0 1655.7) scale(1.0200 1)" font-size="76.5" text-anchor="middle">0.0</text>
<text transform="translate(640.4 1655.7) scale(1.0200 1)" font-size="76.5" text-anchor="middle">0.5</text>
<text transform="translate(1005.8 1655.7) scale(1.0200 1)" font-size="76.5" text-anchor="middle">1.0</text>
<text transform="translate(1371.3 1655.7) scale(1.0200 1)" font-size="76.5" text-anchor="middle">1.5</text>
<text transform="translate(1736.7 1655.7) scale(1.0200 1)" font-size="76.5" text-anchor="middle">2.0</text>
<text transform="translate(2102.1 1655.7) scale(1.0200 1)" font-size="76.5" text-anchor="middle">2.5</text>
<text transform="translate(1189.3 1806.3) scale(0.9850 1)" font-size="92.0" text-anchor="middle">Area (nm<tspan font-size="61" dy="-37">2</tspan><tspan dy="37">/molecule)</tspan></text>
<text transform="translate(113.2 811.6) rotate(-90) scale(0.9850 1)" font-size="92.0" text-anchor="middle">Surface Pressure (mN/m)</text>
<g stroke-width="11.2" stroke-linecap="round" fill="none">
<line x1="873.5" y1="156.6" x2="1043.1" y2="156.6" stroke="#000000"/>
<line x1="873.5" y1="252.5" x2="1043.1" y2="252.5" stroke="#F14040"/>
<line x1="873.5" y1="348.4" x2="1043.1" y2="348.4" stroke="#1A6FDF"/>
<line x1="873.5" y1="444.3" x2="1043.1" y2="444.3" stroke="#37AD6B"/>
<line x1="873.5" y1="540.2" x2="1043.1" y2="540.2" stroke="#B177DE"/>
</g>
<text transform="translate(1063.2 182.8) scale(0.9630 1)" font-size="79.3" text-anchor="start">TPPS solution</text>
<text transform="translate(1063.2 278.5) scale(0.9630 1)" font-size="79.3" text-anchor="start">TsNiPc solution</text>
<text transform="translate(1063.0 374.2) scale(0.9690 1)" font-size="79.3" text-anchor="start">Pure water</text>
<text transform="translate(1060.8 470.0) scale(0.9680 1)" font-size="79.3" text-anchor="start">CCA/TPPS composite films</text>
<text transform="translate(1060.8 565.7) scale(0.9680 1)" font-size="79.3" text-anchor="start">CCA/TsNiPc composite films</text>
</svg></body></html>
